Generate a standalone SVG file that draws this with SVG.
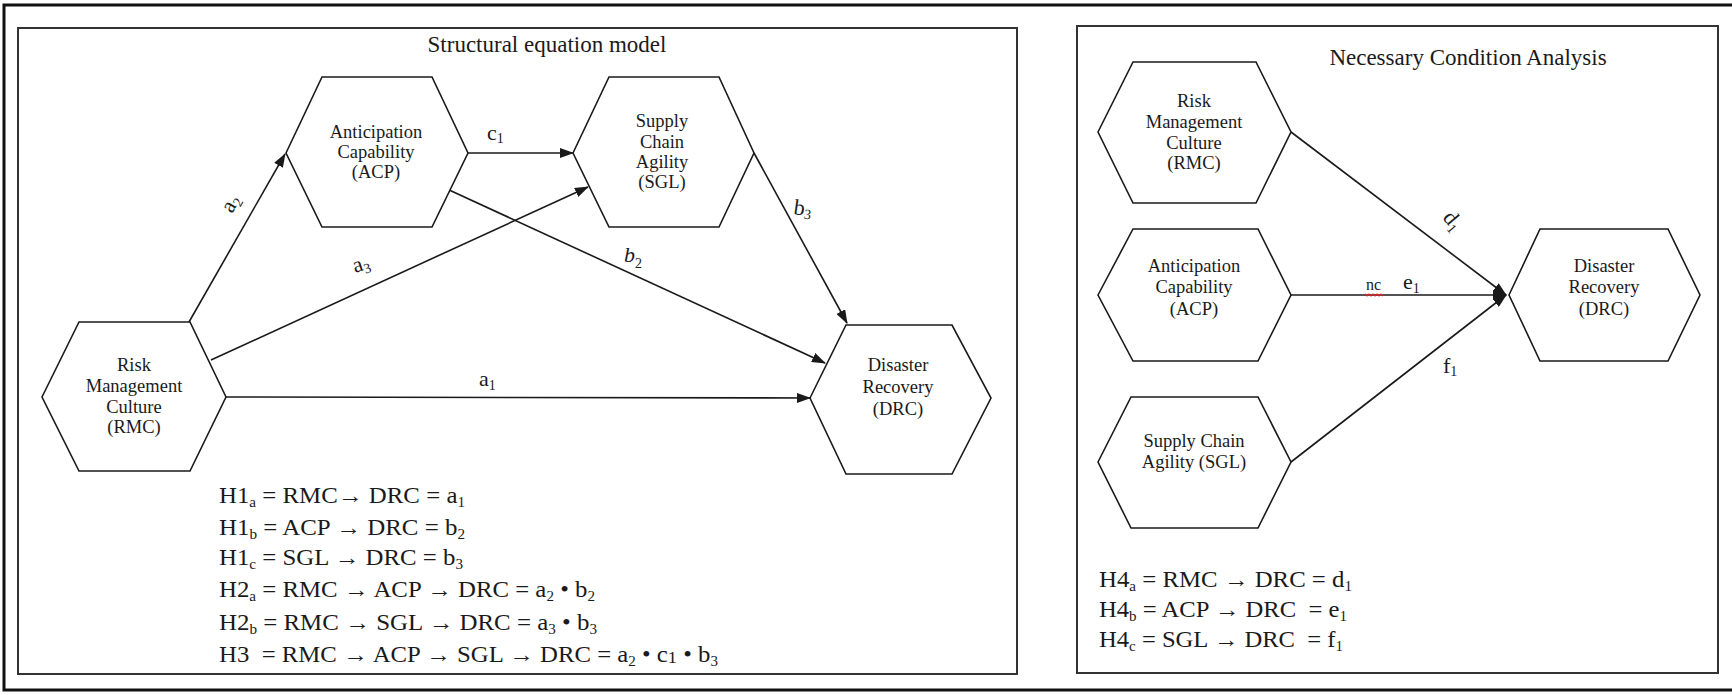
<svg xmlns="http://www.w3.org/2000/svg" width="1732" height="695" viewBox="0 0 1732 695">
<style>
text{font-family:"Liberation Serif","Times New Roman",serif;fill:#1a1a1a}
.hex{fill:#fff;stroke:#1a1a1a;stroke-width:1.6}
.conn{stroke:#1a1a1a;stroke-width:1.6;fill:none;marker-end:url(#arr)}
.panel{fill:none;stroke:#333;stroke-width:2}
.nt{font-size:18.5px;text-anchor:middle}
.title{font-size:23px;text-anchor:middle}
.eq{font-size:23px}
.lbl{font-size:22px}
.sub{font-size:14px}
</style>
<defs>
<marker id="arr" markerWidth="14" markerHeight="10" refX="13" refY="5" orient="auto" markerUnits="userSpaceOnUse">
<path d="M0,0 L14,5 L0,10 z" fill="#1a1a1a"/>
</marker>
</defs>
<rect width="1732" height="695" fill="#fff"/>
<rect x="4" y="5" width="1740" height="685" fill="none" stroke="#111" stroke-width="3"/>
<g id="panel-sem">
<rect class="panel" x="18" y="28" width="999" height="646"/>
<text class="title" x="547" y="52">Structural equation model</text>
</g>
<g id="panel-nca">
<rect class="panel" x="1077" y="26" width="641" height="647"/>
<text class="title" x="1468" y="65">Necessary Condition Analysis</text>
</g>
<g id="connectors">
<path class="conn" d="M189,322 L285,154"/>
<path class="conn" d="M211,360 L588,187"/>
<path class="conn" d="M447,189 L825,363"/>
<path class="conn" d="M468,153 L573,153"/>
<path class="conn" d="M754,153 L847,323"/>
<path class="conn" d="M226,397 L810,398"/>
<path class="conn" d="M1291,132 L1506,295"/>
<path class="conn" d="M1291,295 L1506,295"/>
<path class="conn" d="M1291,462 L1506,295"/>
<text class="lbl" transform="translate(232,214) rotate(-60)">a<tspan class="sub" dy="4">2</tspan></text>
<text class="lbl" transform="translate(355,273) rotate(-18)">a<tspan class="sub" dy="4">3</tspan></text>
<text class="lbl" x="624" y="262" font-style="italic">b<tspan class="sub" dy="6" font-style="normal">2</tspan></text>
<text class="lbl" x="487" y="140">c<tspan class="sub" dy="3">1</tspan></text>
<text class="lbl" transform="translate(793,214) rotate(8)">b<tspan class="sub" dy="3">3</tspan></text>
<text class="lbl" x="479" y="386">a<tspan class="sub" dy="4">1</tspan></text>
<text class="lbl" transform="translate(1442,218) rotate(50)">d<tspan class="sub" dy="4">1</tspan></text>
<text x="1366" y="290" font-size="16px">nc</text>
<path d="M1365,294 l2,2 l2,-2 l2,2 l2,-2 l2,2 l2,-2 l2,2 l2,-2 l2,2" fill="none" stroke="#d22" stroke-width="1.2"/>
<text class="lbl" x="1403" y="289">e<tspan class="sub" dy="4">1</tspan></text>
<text class="lbl" x="1443" y="373">f<tspan class="sub" dy="3">1</tspan></text>
</g>
<g id="node-acp-sem">
<polygon class="hex" points="286,153 322,77 432,77 468,153 432,227 322,227"/>
<text class="nt" x="376" y="138">Anticipation</text>
<text class="nt" x="376" y="158">Capability</text>
<text class="nt" x="376" y="178">(ACP)</text>
</g>
<g id="node-sgl-sem">
<polygon class="hex" points="573,153 609,77 719,77 754,153 719,227 609,227"/>
<text class="nt" x="662" y="127">Supply</text>
<text class="nt" x="662" y="148">Chain</text>
<text class="nt" x="662" y="168">Agility</text>
<text class="nt" x="662" y="188">(SGL)</text>
</g>
<g id="node-rmc-sem">
<polygon class="hex" points="42,397 79,322 190,322 226,397 190,471 79,471"/>
<text class="nt" x="134" y="371">Risk</text>
<text class="nt" x="134" y="392">Management</text>
<text class="nt" x="134" y="413">Culture</text>
<text class="nt" x="134" y="433">(RMC)</text>
</g>
<g id="node-drc-sem">
<polygon class="hex" points="810,398 846,325 952,325 991,398 952,474 846,474"/>
<text class="nt" x="898" y="371">Disaster</text>
<text class="nt" x="898" y="393">Recovery</text>
<text class="nt" x="898" y="415">(DRC)</text>
</g>
<g id="node-rmc-nca">
<polygon class="hex" points="1098,132 1133,62 1256,62 1291,132 1256,203 1133,203"/>
<text class="nt" x="1194" y="107">Risk</text>
<text class="nt" x="1194" y="128">Management</text>
<text class="nt" x="1194" y="149">Culture</text>
<text class="nt" x="1194" y="169">(RMC)</text>
</g>
<g id="node-acp-nca">
<polygon class="hex" points="1098,295 1133,229 1258,229 1291,295 1258,361 1133,361"/>
<text class="nt" x="1194" y="272">Anticipation</text>
<text class="nt" x="1194" y="293">Capability</text>
<text class="nt" x="1194" y="315">(ACP)</text>
</g>
<g id="node-sgl-nca">
<polygon class="hex" points="1098,462 1131,397 1258,397 1291,462 1258,528 1131,528"/>
<text class="nt" x="1194" y="447">Supply Chain</text>
<text class="nt" x="1194" y="468">Agility (SGL)</text>
</g>
<g id="node-drc-nca">
<polygon class="hex" points="1509,295 1540,229 1668,229 1700,295 1668,361 1540,361"/>
<text class="nt" x="1604" y="272">Disaster</text>
<text class="nt" x="1604" y="293">Recovery</text>
<text class="nt" x="1604" y="315">(DRC)</text>
</g>
<g id="equations-sem">
<text class="eq" x="219" y="503" textLength="246" lengthAdjust="spacingAndGlyphs" xml:space="preserve">H1<tspan class="sub" dy="4">a</tspan><tspan dy="-4"> = RMC→ DRC = a</tspan><tspan class="sub" dy="4">1</tspan></text>
<text class="eq" x="219" y="535" textLength="246" lengthAdjust="spacingAndGlyphs" xml:space="preserve">H1<tspan class="sub" dy="4">b</tspan><tspan dy="-4"> = ACP → DRC = b</tspan><tspan class="sub" dy="4">2</tspan></text>
<text class="eq" x="219" y="565" textLength="244" lengthAdjust="spacingAndGlyphs" xml:space="preserve">H1<tspan class="sub" dy="4">c</tspan><tspan dy="-4"> = SGL → DRC = b</tspan><tspan class="sub" dy="4">3</tspan></text>
<text class="eq" x="219" y="597" textLength="376" lengthAdjust="spacingAndGlyphs" xml:space="preserve">H2<tspan class="sub" dy="4">a</tspan><tspan dy="-4"> = RMC → ACP → DRC = a</tspan><tspan class="sub" dy="4">2</tspan><tspan dy="-4"> • b</tspan><tspan class="sub" dy="4">2</tspan></text>
<text class="eq" x="219" y="630" textLength="378" lengthAdjust="spacingAndGlyphs" xml:space="preserve">H2<tspan class="sub" dy="4">b</tspan><tspan dy="-4"> = RMC → SGL → DRC = a</tspan><tspan class="sub" dy="4">3</tspan><tspan dy="-4"> • b</tspan><tspan class="sub" dy="4">3</tspan></text>
<text class="eq" x="219" y="662" textLength="499" lengthAdjust="spacingAndGlyphs" xml:space="preserve">H3  = RMC → ACP → SGL → DRC = a<tspan class="sub" dy="4">2</tspan><tspan dy="-4"> • c</tspan><tspan font-size="17px" dy="1">1</tspan><tspan dy="-1"> • b</tspan><tspan class="sub" dy="4">3</tspan></text>
</g>
<g id="equations-nca">
<text class="eq" x="1099" y="587" textLength="253" lengthAdjust="spacingAndGlyphs" xml:space="preserve">H4<tspan class="sub" dy="4">a</tspan><tspan dy="-4"> = RMC → DRC = d</tspan><tspan class="sub" dy="4">1</tspan></text>
<text class="eq" x="1099" y="617" textLength="248" lengthAdjust="spacingAndGlyphs" xml:space="preserve">H4<tspan class="sub" dy="4">b</tspan><tspan dy="-4"> = ACP → DRC  = e</tspan><tspan class="sub" dy="4">1</tspan></text>
<text class="eq" x="1099" y="647" textLength="244" lengthAdjust="spacingAndGlyphs" xml:space="preserve">H4<tspan class="sub" dy="4">c</tspan><tspan dy="-4"> = SGL → DRC  = f</tspan><tspan class="sub" dy="4">1</tspan></text>
</g>
</svg>
